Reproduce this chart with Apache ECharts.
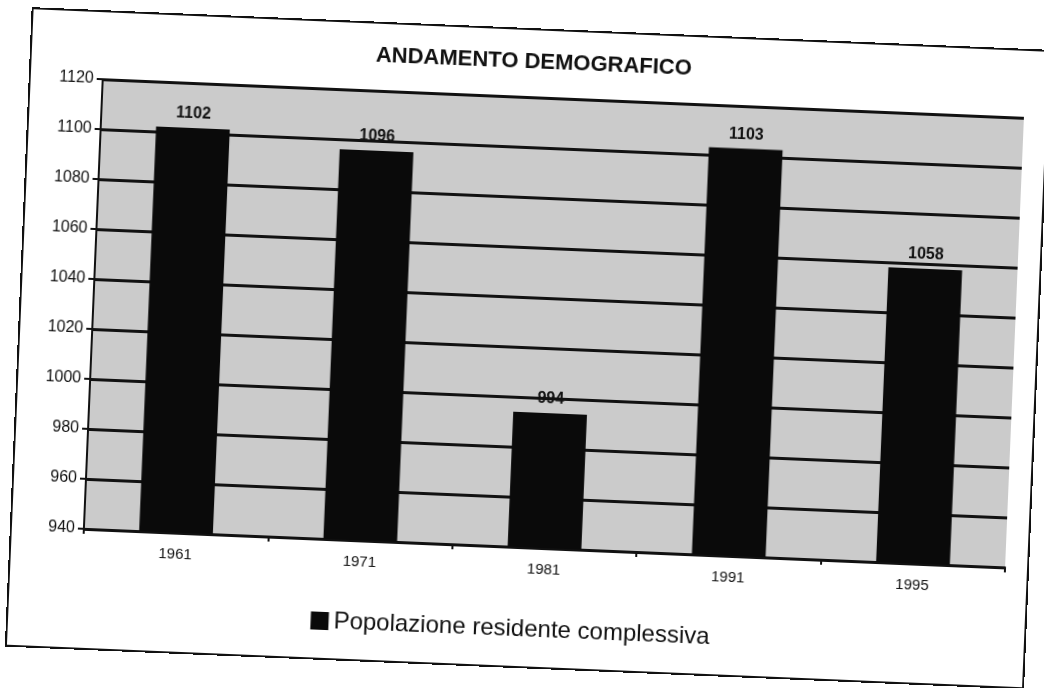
<!DOCTYPE html>
<html>
<head>
<meta charset="utf-8">
<script src="https://cdn.jsdelivr.net/npm/echarts@6/dist/echarts.min.js"></script>
<style>
  html, body { margin: 0; padding: 0; background: #fff; overflow: hidden; }
  #page {
    position: relative;
    width: 1044px;
    height: 688px;
    transform: rotate(2.4deg); /* the scan is tilted */
    transform-origin: 522px 344px;
  }
  #chart {
    position: absolute;
    left: 0; top: 0;
    width: 1044px;
    height: 688px;
  }
  #frame {
    position: absolute;
    left: 18px; top: 28px;
    width: 1016px; height: 636px;
    border: 2px solid #111;
    z-index: 5;
    pointer-events: none;
  }
</style>
</head>
<body>
<div id="page">
  <div id="chart"></div>
  <div id="frame"></div>
</div>
<script>
const years = ['1961', '1971', '1981', '1991', '1995']
const popolazione = [1102, 1096, 994, 1103, 1058]
const yMin = 940
const yMax = 1120
const yStep = 20

var chartDom = document.getElementById('chart')
var myChart = echarts.init(chartDom)
var option = {
  animation: false,
  title: {
    text: 'ANDAMENTO DEMOGRAFICO',
    left: 'center',
    top: 46,
    textStyle: {
      fontFamily: 'Liberation Sans',
      fontSize: 22,
      fontWeight: 'bold',
      color: '#111'
    }
  },
  legend: {
    bottom: 42,
    left: 'center',
    itemWidth: 18,
    itemHeight: 18,
    icon: 'rect',
    textStyle: {
      fontFamily: 'Liberation Sans',
      fontSize: 24,
      color: '#111'
    }
  },
  grid: {
    left: 92,
    right: 30,
    top: 97,
    bottom: 141,
    show: true,
    backgroundColor: '#cbcbcb',
    borderWidth: 0
  },
  xAxis: {
    type: 'category',
    data: years,
    axisLine: { lineStyle: { color: '#111', width: 2 } },
    axisTick: { show: true, lineStyle: { color: '#111', width: 2 }, length: 5 },
    axisLabel: {
      margin: 14,
      fontFamily: 'Liberation Sans',
      fontSize: 15,
      color: '#111'
    }
  },
  yAxis: {
    type: 'value',
    min: yMin,
    max: yMax,
    interval: yStep,
    axisLine: { show: true, lineStyle: { color: '#111', width: 2 } },
    axisTick: { show: true, lineStyle: { color: '#111', width: 2 }, length: 6 },
    axisLabel: {
      margin: 9,
      fontFamily: 'Liberation Sans',
      fontSize: 16,
      color: '#111',
      formatter: function (v) { return String(v) }
    },
    splitLine: { lineStyle: { color: '#111', width: 3 } }
  },
  series: [
    {
      name: 'Popolazione residente complessiva',
      type: 'bar',
      data: popolazione,
      barWidth: '40%',
      itemStyle: { color: '#0a0a0a' },
      label: {
        show: true,
        position: 'top',
        distance: 6,
        fontFamily: 'Liberation Sans',
        fontSize: 16,
        fontWeight: 'bold',
        color: '#111'
      }
    }
  ]
}
option && myChart.setOption(option)
</script>
</body>
</html>
